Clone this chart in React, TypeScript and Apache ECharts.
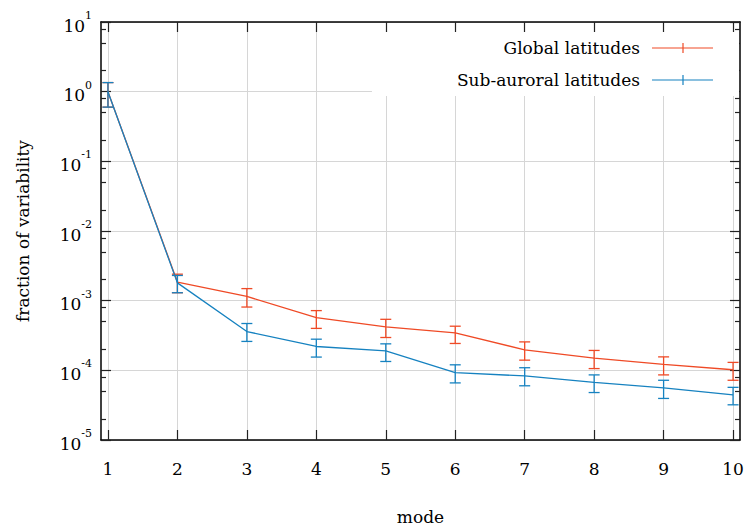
import React, { useEffect, useRef } from "react";
import * as echarts from "echarts";

const modes = [1, 2, 3, 4, 5, 6, 7, 8, 9, 10];
const globalVals = [1.0, 1.85e-3, 1.15e-3, 5.7e-4, 4.2e-4, 3.45e-4, 1.97e-4, 1.5e-4, 1.22e-4, 1.02e-4];
const globalLow = [0.6, 1.3e-3, 8.1e-4, 4.0e-4, 2.96e-4, 2.43e-4, 1.4e-4, 1.06e-4, 8.6e-5, 7.2e-5];
const globalHigh = [1.35, 2.4e-3, 1.49e-3, 7.2e-4, 5.4e-4, 4.3e-4, 2.56e-4, 1.93e-4, 1.56e-4, 1.3e-4];
const subVals = [1.0, 1.8e-3, 3.6e-4, 2.2e-4, 1.9e-4, 9.3e-5, 8.3e-5, 6.7e-5, 5.6e-5, 4.45e-5];
const subLow = [0.6, 1.3e-3, 2.6e-4, 1.55e-4, 1.34e-4, 6.6e-5, 6.0e-5, 4.8e-5, 3.95e-5, 3.2e-5];
const subHigh = [1.35, 2.3e-3, 4.7e-4, 2.8e-4, 2.4e-4, 1.2e-4, 1.09e-4, 8.6e-5, 7.2e-5, 5.7e-5];
const yMinorTicks = [
  2e-5, 5e-5, 8e-5, 2e-4, 5e-4, 8e-4, 2e-3, 5e-3, 8e-3, 2e-2, 5e-2, 8e-2, 0.2, 0.5, 0.8, 2, 5, 8,
];

const RED = "#ef4a26";
const BLUE = "#1682c0";
const FONT = "DejaVu Serif";
const FS = 17;
const GRID = "#d6d6d6";

const legendIcon =
  "path://M0,0 L0.05,0 L0.05,0.05 Z M7,4.4 L68,4.4 L68,5.6 L7,5.6 Z M37.4,0 L38.6,0 L38.6,10 L37.4,10 Z";

function errData(lo: number[], hi: number[]) {
  return modes.map((m, i) => [m, lo[i], hi[i]]);
}

function errSeries(name: string, color: string, lo: number[], hi: number[]) {
  return {
    type: "custom",
    name,
    xAxisIndex: 0,
    yAxisIndex: 0,
    data: errData(lo, hi),
    z: 3,
    renderItem: (params: any, api: any) => {
      const x = api.value(0);
      const top = api.coord([x, api.value(2)]);
      const bot = api.coord([x, api.value(1)]);
      const w = 5.5;
      const st = { stroke: color, lineWidth: 1.3 };
      return {
        type: "group",
        children: [
          { type: "line", shape: { x1: top[0], y1: top[1], x2: bot[0], y2: bot[1] }, style: st },
          { type: "line", shape: { x1: top[0] - w, y1: top[1], x2: top[0] + w, y2: top[1] }, style: st },
          { type: "line", shape: { x1: bot[0] - w, y1: bot[1], x2: bot[0] + w, y2: bot[1] }, style: st },
        ],
      };
    },
  };
}

export default function App() {
  const ref = useRef<HTMLDivElement>(null);
  useEffect(() => {
    if (!ref.current) return;
    const chart = echarts.init(ref.current, null, { renderer: "svg" });
    const tickStyle = { color: "#222", width: 1.2 };
    const commonX = { type: "value", min: 0.9, max: 10.1 };
    const commonY = { type: "log", logBase: 10, min: 1e-5, max: 10 };
    chart.setOption({
      animation: false,
      backgroundColor: "#fff",
      textStyle: { fontFamily: FONT },
      grid: { left: 101, right: 7, top: 22, bottom: 89, containLabel: false },
      legend: {
        orient: "vertical",
        align: "right",
        right: 8,
        top: 32,
        padding: [5, 26, 5, 85],
        backgroundColor: "#fff",
        itemWidth: 68,
        itemHeight: 10,
        itemGap: 10,
        selectedMode: false,
        itemStyle: { borderWidth: 0 },
        textStyle: { fontFamily: FONT, fontSize: FS, color: "#000", lineHeight: 22 },
        data: [
          { name: "Global latitudes", icon: legendIcon, itemStyle: { color: RED } },
          { name: "Sub-auroral latitudes", icon: legendIcon, itemStyle: { color: BLUE } },
        ],
        z: 10,
      },
      xAxis: [
        {
          ...commonX,
          position: "bottom",
          name: "mode",
          nameLocation: "middle",
          nameGap: 68,
          nameTextStyle: { fontFamily: FONT, fontSize: FS, color: "#000" },
          axisLine: { show: true, onZero: false, lineStyle: { color: "#000", width: 1.5 } },
          axisTick: { show: true, inside: true, length: 10, lineStyle: tickStyle, customValues: modes },
          axisLabel: {
            show: true,
            customValues: modes,
            margin: 20,
            fontFamily: FONT,
            fontSize: FS,
            color: "#000",
          },
          splitLine: { show: true, lineStyle: { color: GRID, width: 1 } },
        },
        {
          ...commonX,
          position: "top",
          axisLine: { show: true, onZero: false, lineStyle: { color: "#000", width: 1.5 } },
          axisTick: { show: true, inside: true, length: 10, lineStyle: tickStyle, customValues: modes },
          axisLabel: { show: false },
          splitLine: { show: false },
        },
      ],
      yAxis: [
        {
          ...commonY,
          position: "left",
          name: "fraction of variability",
          nameLocation: "middle",
          nameGap: 70,
          nameTextStyle: { fontFamily: FONT, fontSize: FS, color: "#000" },
          axisLine: { show: true, onZero: false, lineStyle: { color: "#000", width: 1.5 } },
          axisTick: { show: true, inside: true, length: 10, lineStyle: tickStyle },
          axisLabel: {
            show: true,
            margin: 9,
            formatter: (v: number) => `{b|10}{e|${Math.round(Math.log10(v))}}`,
            rich: {
              b: { fontFamily: FONT, fontSize: FS, color: "#000", lineHeight: 24, verticalAlign: "bottom" },
              e: { fontFamily: FONT, fontSize: 11, color: "#000", verticalAlign: "top" },
            },
          },
          splitLine: { show: true, lineStyle: { color: GRID, width: 1 } },
        },
        {
          ...commonY,
          position: "right",
          axisLine: { show: true, onZero: false, lineStyle: { color: "#000", width: 1.5 } },
          axisTick: { show: true, inside: true, length: 10, lineStyle: tickStyle },
          axisLabel: { show: false },
          splitLine: { show: false },
        },
        {
          ...commonY,
          position: "left",
          axisLine: { show: false },
          axisTick: { show: true, inside: true, length: 5, lineStyle: tickStyle, customValues: yMinorTicks },
          axisLabel: { show: false },
          splitLine: { show: false },
        },
        {
          ...commonY,
          position: "right",
          axisLine: { show: false },
          axisTick: { show: true, inside: true, length: 5, lineStyle: tickStyle, customValues: yMinorTicks },
          axisLabel: { show: false },
          splitLine: { show: false },
        },
      ],
      series: [
        {
          type: "line",
          name: "Global latitudes",
          xAxisIndex: 0,
          yAxisIndex: 0,
          data: modes.map((m, i) => [m, globalVals[i]]),
          symbol: "none",
          lineStyle: { color: RED, width: 1.3 },
          itemStyle: { color: RED },
          z: 2,
        },
        errSeries("Global err", RED, globalLow, globalHigh),
        {
          type: "line",
          name: "Sub-auroral latitudes",
          xAxisIndex: 0,
          yAxisIndex: 0,
          data: modes.map((m, i) => [m, subVals[i]]),
          symbol: "none",
          lineStyle: { color: BLUE, width: 1.3 },
          itemStyle: { color: BLUE },
          z: 4,
        },
        errSeries("Sub err", BLUE, subLow, subHigh),
      ],
    });
    return () => chart.dispose();
  }, []);
  return (
    <div
      ref={ref}
      style={{ position: "absolute", left: 0, top: 0, width: 747, height: 530, background: "#fff" }}
    />
  );
}
